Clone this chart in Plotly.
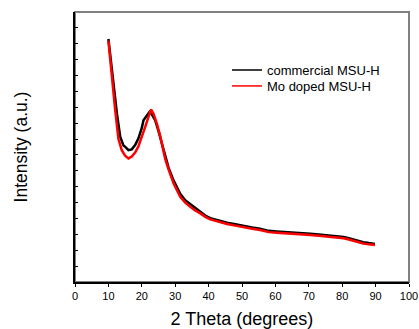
import plotly.graph_objects as go

# 2 Theta (degrees) and intensity (arbitrary units)
commercial_x = [10.0, 11.0, 12.0, 12.55, 13.55, 14.5, 15.05, 16.0, 17.0, 18.0, 19.0, 20.0,
                20.5, 21.5, 22.3, 23.0, 24.0, 25.0, 26.0, 27.0, 28.0, 29.5, 31.5, 33.0,
                34.5, 36.0, 37.5, 39.0, 40.5, 43.0, 45.5, 48.0, 50.4, 53.0, 55.4, 58.0,
                60.4, 64.4, 67.0, 70.4, 73.0, 76.4, 78.5, 80.4, 82.0, 83.3, 85.0, 86.3,
                88.0, 89.8]
commercial_y = [15.3, 13.3, 11.3, 10.6, 9.14, 8.6, 8.51, 8.30, 8.35, 8.62, 9.05, 9.7,
                10.19, 10.5, 10.71, 10.55, 10.19, 9.5, 8.7, 7.85, 7.2, 6.4, 5.55, 5.15,
                4.9, 4.62, 4.42, 4.18, 4.02, 3.86, 3.73, 3.63, 3.52, 3.43, 3.35, 3.22,
                3.18, 3.14, 3.10, 3.04, 2.99, 2.93, 2.90, 2.83, 2.76, 2.68, 2.58, 2.51,
                2.45, 2.40]

mo_x = [10.0, 11.0, 12.0, 13.0, 14.0, 15.0, 16.0, 17.0, 18.0, 19.0, 20.0, 21.0, 22.0,
        22.8, 23.5, 24.5, 25.5, 26.5, 27.0, 28.0, 29.5, 31.5, 33.0, 34.5, 36.0, 37.5,
        39.0, 40.5, 43.0, 45.5, 48.0, 50.4, 53.0, 55.4, 58.0, 60.4, 64.4, 67.0, 70.4,
        73.0, 76.4, 78.5, 80.4, 82.0, 83.3, 85.0, 86.3, 88.0, 89.8]
mo_y = [15.2, 12.9, 10.9, 9.0, 8.3, 7.95, 7.78, 7.9, 8.15, 8.55, 9.1, 9.75, 10.4,
        10.86, 10.6, 9.98, 9.2, 8.1, 7.75, 7.1, 6.21, 5.36, 5.0, 4.74, 4.5, 4.32,
        4.1, 3.94, 3.78, 3.65, 3.55, 3.44, 3.35, 3.27, 3.14, 3.10, 3.06, 3.02, 2.96,
        2.91, 2.85, 2.82, 2.75, 2.68, 2.60, 2.50, 2.43, 2.37, 2.33]

x_ticks = list(range(0, 101, 10))
series_names = ["commercial MSU-H", "Mo doped MSU-H"]
series_colors = ["black", "#ff0000"]

FONT = "Arial, Liberation Sans, sans-serif"

fig = go.Figure()
fig.add_trace(go.Scatter(x=commercial_x, y=commercial_y, mode="lines",
                         name=series_names[0], line=dict(color=series_colors[0], width=2.5),
                         showlegend=False))
fig.add_trace(go.Scatter(x=mo_x, y=mo_y, mode="lines",
                         name=series_names[1], line=dict(color=series_colors[1], width=2.5),
                         showlegend=False))
# thin legend keys (legend-only entries)
fig.add_trace(go.Scatter(x=[None], y=[None], mode="lines", name=series_names[0],
                         line=dict(color=series_colors[0], width=1.5), legend="legend"))
fig.add_trace(go.Scatter(x=[None], y=[None], mode="lines", name=series_names[1],
                         line=dict(color=series_colors[1], width=1.5), legend="legend2"))

fig.add_shape(type="rect", xref="x domain", yref="y domain", x0=0, x1=1, y0=0, y1=1,
              line=dict(color="#808080", width=2), layer="below")

fig.update_layout(
    width=419, height=329,
    margin=dict(l=75, r=10, t=12, b=47, autoexpand=False),
    paper_bgcolor="white", plot_bgcolor="white",
    font=dict(family=FONT, color="black"),
    showlegend=True,
    legend=dict(x=0.455, y=0.785, xanchor="left", yanchor="middle",
                bgcolor="rgba(0,0,0,0)", font=dict(size=13, family=FONT)),
    legend2=dict(x=0.455, y=0.726, xanchor="left", yanchor="middle",
                 bgcolor="rgba(0,0,0,0)", font=dict(size=13, family=FONT)),
    xaxis=dict(range=[0, 100], tickvals=x_ticks, ticks="outside", ticklen=3,
               tickcolor="black", showline=True, linecolor="black", linewidth=1.5,
               showgrid=False, zeroline=False, tickfont=dict(size=11), automargin=False,
               ticklabeloverflow="allow",
               title=dict(text="2 Theta (degrees)", font=dict(size=18), standoff=14)),
    xaxis2=dict(range=[0, 100], overlaying="x", anchor="y", side="bottom",
                dtick=5, tick0=0, ticks="inside", ticklen=3, tickcolor="black",
                showticklabels=False, showline=False, showgrid=False, zeroline=False),
    yaxis=dict(range=[0, 17], dtick=1, tick0=0, ticks="inside", ticklen=3,
               tickcolor="black", showticklabels=False, showline=True,
               linecolor="black", linewidth=1.5, showgrid=False, zeroline=False,
               automargin=False,
               title=dict(text="Intensity (a.u.)", font=dict(size=17.5), standoff=41)),
)

# remove the browser's default 8 px page margin so the figure sits at the window corner
fig.write_html("out.html",
               config={"displayModeBar": False},
               post_script="document.body.style.margin='0';document.body.style.overflow='hidden';")
